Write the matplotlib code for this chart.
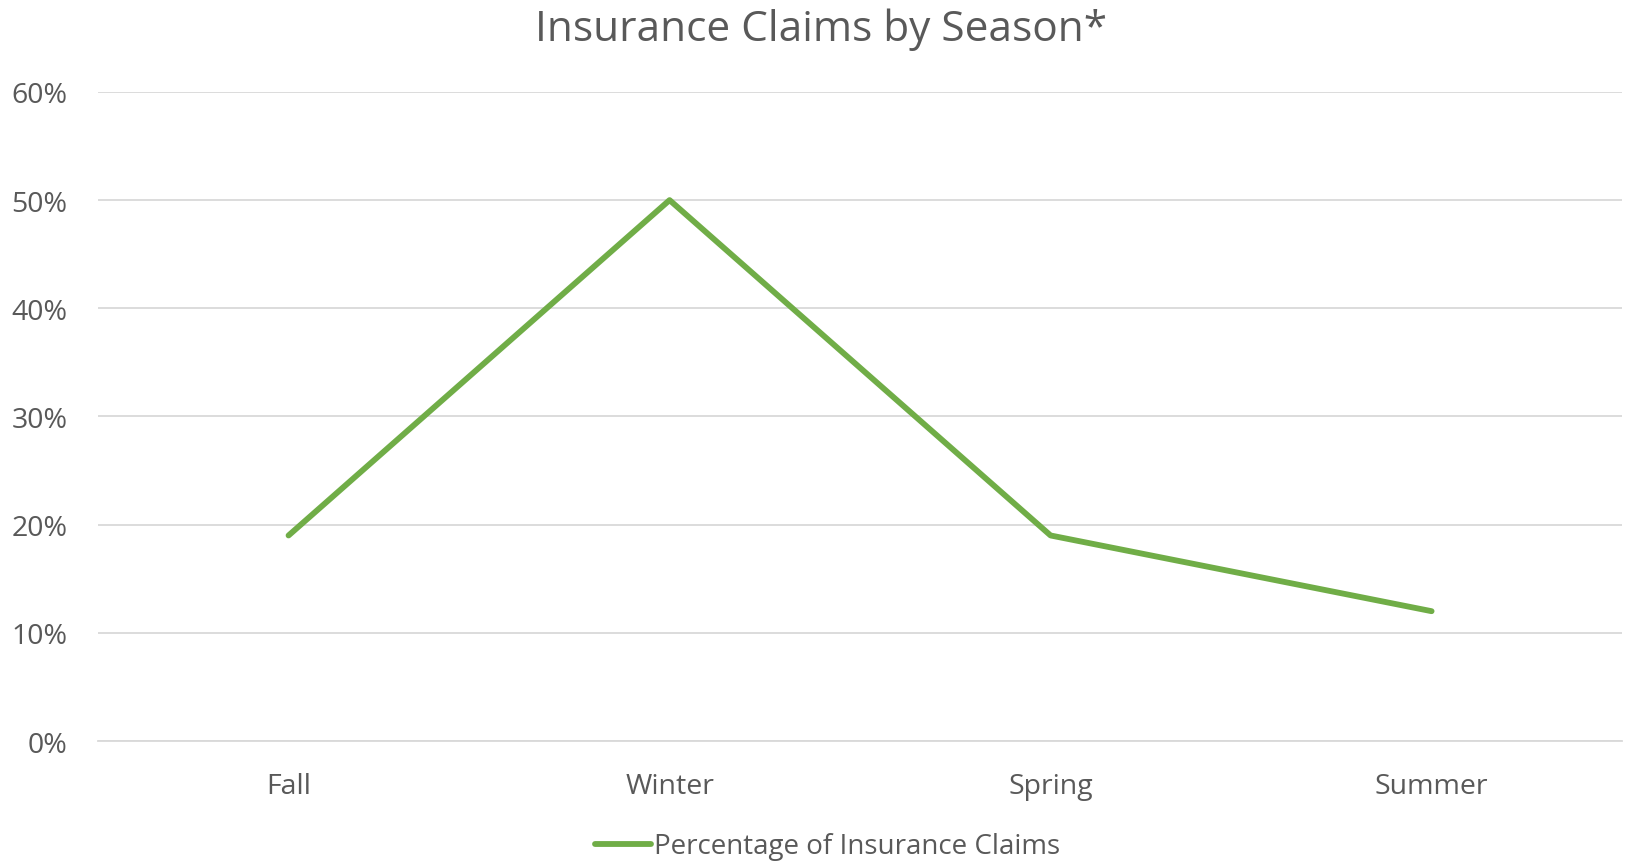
import matplotlib.pyplot as plt
from matplotlib.ticker import PercentFormatter

seasons = ["Fall", "Winter", "Spring", "Summer"]
claims_pct = [19, 50, 19, 12]
y_ticks = [0, 10, 20, 30, 40, 50, 60]

text_col = "#595959"
grid_col = "#d9d9d9"
line_col = "#70ad47"

plt.rcParams['font.family'] = ['Open Sans', 'DejaVu Sans']

fig = plt.figure(figsize=(16.26, 8.62), dpi=100)
ax = fig.add_axes([0.0603, 0.1392, 0.9373, 0.753])

x = range(len(seasons))
ax.plot(x, claims_pct, color=line_col, lw=4.2, solid_capstyle='round',
        label="Percentage of Insurance Claims")

ax.set_xlim(-0.5, len(seasons) - 0.5)
ax.set_ylim(0, 60)
ax.set_yticks(y_ticks)
ax.yaxis.set_major_formatter(PercentFormatter(decimals=0))
ax.set_xticks(list(x))
ax.set_xticklabels(seasons)

ax.grid(axis='y', color=grid_col, lw=1.3)
ax.set_axisbelow(True)
for s in ["top", "right", "left"]:
    ax.spines[s].set_visible(False)
ax.spines["bottom"].set_color(grid_col)
ax.spines["bottom"].set_linewidth(1.3)
ax.tick_params(axis='both', length=0, colors=text_col, labelsize=20.5)
ax.tick_params(axis='y', pad=22)
ax.tick_params(axis='x', pad=22)

fig.suptitle("Insurance Claims by Season*", x=0.505, y=0.966, va='center',
             fontsize=30.5, color=text_col)

leg = fig.legend(loc='center', bbox_to_anchor=(0.509, 0.017), frameon=False,
                 fontsize=20, handlelength=2.0, handletextpad=0.1)
for t in leg.get_texts():
    t.set_color(text_col)

fig.savefig("out.png", dpi=100)
